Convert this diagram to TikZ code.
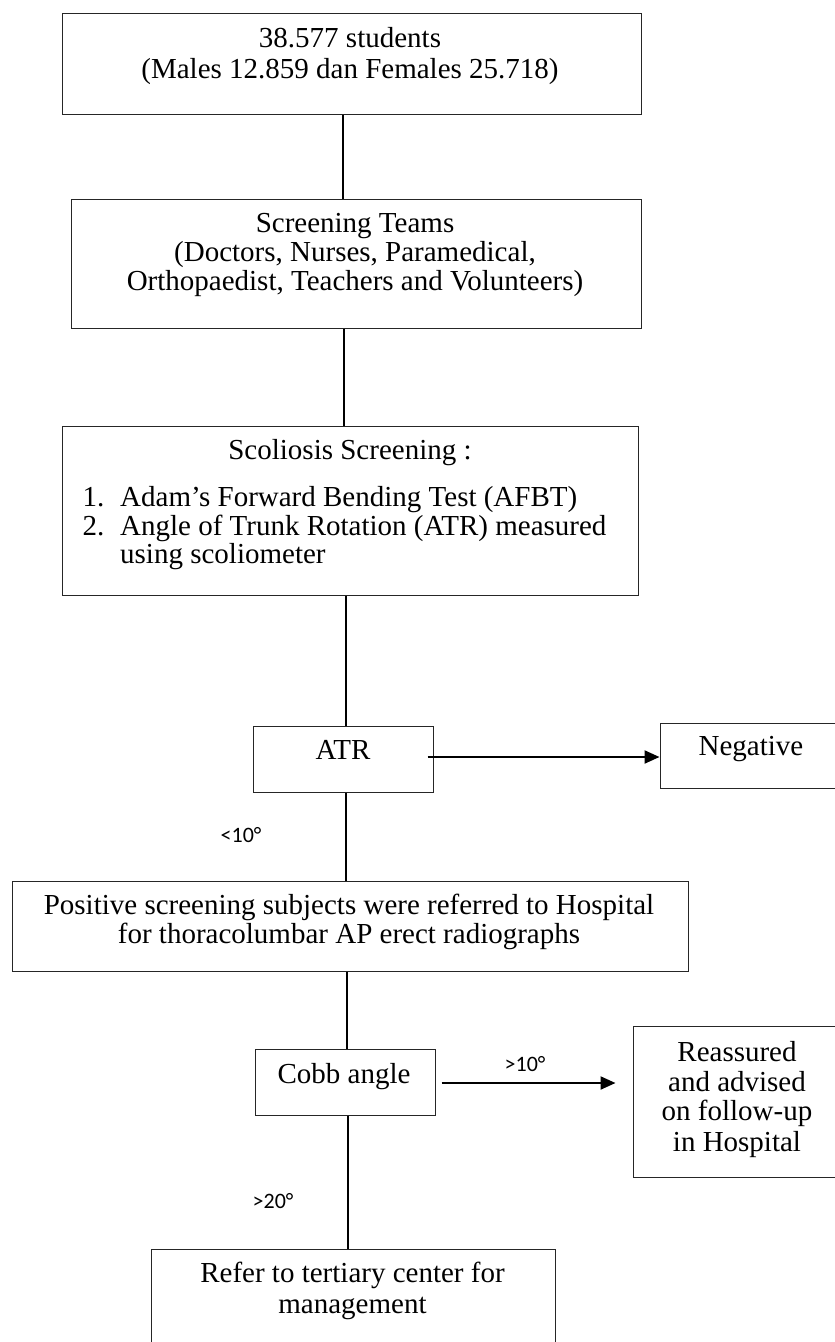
\documentclass[tikz,border=0pt]{standalone}
\usepackage{fontspec}
\setmainfont{Liberation Serif}
\newfontfamily\lblfont{Carlito}
\usetikzlibrary{arrows.meta}
\tikzset{
  box/.style={draw=black!85, line width=1pt, inner sep=0pt, fill=none},
  txt/.style={inner sep=0pt, anchor=base, font=\fontsize{29}{30}\selectfont},
  txtl/.style={txt, anchor=base west},
  lbl/.style={inner sep=0pt, anchor=base, font=\lblfont\fontsize{22}{24}\selectfont},
  link/.style={line width=1.6pt, draw=black},
  arr/.style={line width=2.2pt, draw=black, -{Triangle[length=15pt,width=13pt]}}
}
\begin{document}
\begin{tikzpicture}[x=1pt,y=-1pt]
\useasboundingbox (0,0) rectangle (835,1342);
\clip (0,0) rectangle (835,1342);
% boxes
\node[box, minimum width=579pt, minimum height=101pt] (b1) at (351.5,63.5) {};
\node[box, minimum width=570pt, minimum height=129pt] (b2) at (356,263.5) {};
\node[box, minimum width=576pt, minimum height=169pt] (b3) at (350,510.5) {};
\node[box, minimum width=180pt, minimum height=66pt] (atr) at (343,759) {};
\node[box, minimum width=182pt, minimum height=65pt] (neg) at (751,755.5) {};
\node[box, minimum width=676pt, minimum height=90pt] (pos) at (350,926) {};
\node[box, minimum width=180pt, minimum height=66pt] (cobb) at (345,1082) {};
\node[box, minimum width=209pt, minimum height=151pt] (reas) at (737.5,1101.5) {};
\node[box, minimum width=404pt, minimum height=121pt] (refer) at (353,1309.5) {};
% texts
\node[txt] (t1a) at (350,47) {38.577 students};
\node[txt] (t1b) at (350,78) {(Males 12.859 dan Females 25.718)};
\node[txt] (t2a) at (355,232) {Screening Teams};
\node[txt] (t2b) at (355,261) {(Doctors, Nurses, Paramedical,};
\node[txt] (t2c) at (355,290) {Orthopaedist, Teachers and Volunteers)};
\node[txt] (t3a) at (350,459) {Scoliosis Screening :};
\node[txtl] (t3n1) at (82.5,506) {1.};
\node[txtl] (t3b) at (120,506) {Adam’s Forward Bending Test (AFBT)};
\node[txtl] (t3n2) at (82.5,535) {2.};
\node[txtl] (t3c) at (120,535) {Angle of Trunk Rotation (ATR) measured};
\node[txtl] (t3d) at (120,563) {using scoliometer};
\node[txt] (tatr) at (343,759) {ATR};
\node[txt] (tneg) at (751,755) {Negative};
\node[txt] (tpa) at (349,914) {Positive screening subjects were referred to Hospital};
\node[txt] (tpb) at (349,943) {for thoracolumbar AP erect radiographs};
\node[txt] (tcobb) at (344,1083) {Cobb angle};
\node[txt] (tra) at (737,1061) {Reassured};
\node[txt] (trb) at (737,1091) {and advised};
\node[txt] (trc) at (737,1120) {on follow-up};
\node[txt] (trd) at (737,1151) {in Hospital};
\node[txt] (tfa) at (352.5,1282) {Refer to tertiary center for};
\node[txt] (tfb) at (352.5,1313) {management};
% labels
\node[lbl] (l1) at (241,842) {<10°};
\node[lbl] (l2) at (525,1071) {>10°};
\node[lbl] (l3) at (273,1208) {>20°};
% connector x positions
\coordinate (x1) at (343,0);
\coordinate (x2) at (344,0);
\coordinate (x3) at (346,0);
\coordinate (x4) at (346,0);
\coordinate (x5) at (347,0);
\coordinate (x6) at (348,0);
\draw[link] (b1.south -| x1) -- (b2.north -| x1);
\draw[link] (b2.south -| x2) -- (b3.north -| x2);
\draw[link] (b3.south -| x3) -- (atr.north -| x3);
\draw[link] (atr.south -| x4) -- (pos.north -| x4);
\draw[link] (pos.south -| x5) -- (cobb.north -| x5);
\draw[link] (cobb.south -| x6) -- (refer.north -| x6);
% arrows
\draw[arr] ([xshift=-6pt,yshift=2pt]atr.east) -- ([yshift=2pt]atr.east -| neg.west);
\draw[arr] ([xshift=6pt,yshift=-1pt]cobb.east) -- ([xshift=-17pt,yshift=-1pt]cobb.east -| reas.west);
\end{tikzpicture}
\end{document}
